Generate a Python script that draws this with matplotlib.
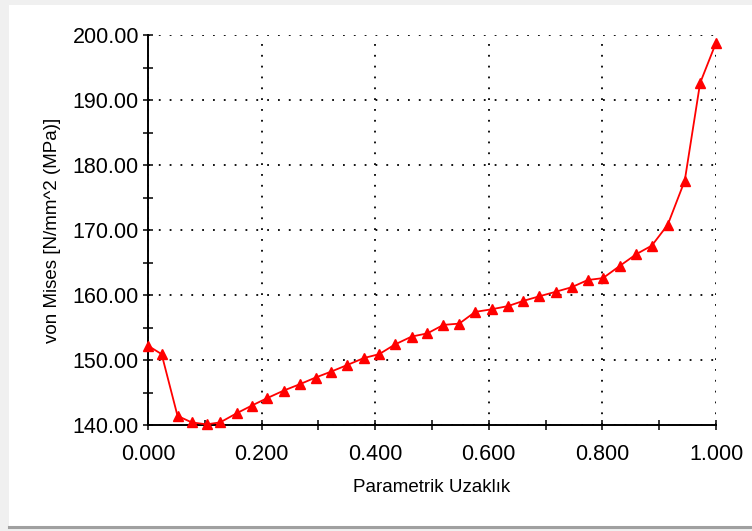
import matplotlib
matplotlib.use("Agg")
import matplotlib.pyplot as plt
from matplotlib.patches import Rectangle
from matplotlib.lines import Line2D
from matplotlib.ticker import MultipleLocator, FormatStrFormatter

plt.rcParams['font.family'] = ['Liberation Sans', 'DejaVu Sans']

x_vals = [0.0, 0.024, 0.052, 0.077, 0.103, 0.127, 0.156, 0.183, 0.209, 0.239,
          0.268, 0.295, 0.322, 0.350, 0.380, 0.407, 0.435, 0.464, 0.492, 0.520,
          0.548, 0.576, 0.605, 0.634, 0.661, 0.689, 0.718, 0.746, 0.774, 0.801,
          0.831, 0.860, 0.887, 0.915, 0.945, 0.972, 1.0]
y_vals = [152.2, 150.9, 141.4, 140.4, 140.1, 140.4, 141.8, 143.0, 144.1, 145.3,
          146.3, 147.3, 148.2, 149.2, 150.3, 150.9, 152.4, 153.6, 154.1, 155.4,
          155.6, 157.4, 157.8, 158.3, 159.1, 159.8, 160.5, 161.2, 162.3, 162.6,
          164.5, 166.3, 167.6, 170.8, 177.6, 192.6, 198.8]

x_label = "Parametrik Uzaklık"
y_label = "von Mises [N/mm^2 (MPa)]"

W, H = 752, 531
fig = plt.figure(figsize=(W / 100, H / 100), dpi=100, facecolor='#f0f0f0')

# white panel
fig.patches.append(Rectangle((9 / W, 5 / H), 1 - 9 / W, 1 - 10 / H,
                             transform=fig.transFigure, facecolor='white',
                             edgecolor='none', zorder=-10))
fig.lines.append(Line2D([9 / W, 1], [4 / H, 4 / H], transform=fig.transFigure,
                        color='#a0a0a0', linewidth=2.2, zorder=-5))

ax = fig.add_axes([148 / W, (H - 425) / H, (716 - 148) / W, (425 - 35) / H])
ax.set_facecolor('none')

ax.plot(x_vals, y_vals, color='#ff0000', linewidth=1.3, marker='^',
        markersize=7, markerfacecolor='#ff0000', markeredgecolor='#ff0000',
        zorder=5, clip_on=False)

ax.set_xlim(0, 1)
ax.set_ylim(140, 200)

ax.xaxis.set_major_locator(MultipleLocator(0.2))
ax.xaxis.set_minor_locator(MultipleLocator(0.1))
ax.yaxis.set_major_locator(MultipleLocator(10))
ax.yaxis.set_minor_locator(MultipleLocator(5))
ax.xaxis.set_major_formatter(FormatStrFormatter('%.3f'))
ax.yaxis.set_major_formatter(FormatStrFormatter('%.2f'))

for s in ['top', 'right']:
    ax.spines[s].set_visible(False)
for s in ['left', 'bottom']:
    ax.spines[s].set_linewidth(1.4)
    ax.spines[s].set_color('black')

ax.grid(True, which='major', color='black', linestyle=(0, (1, 5)),
        linewidth=1.3)
ax.set_axisbelow(True)

ax.tick_params(axis='both', which='both', direction='inout', length=7,
               width=1.1, color='black')
ax.tick_params(axis='y', which='major', labelsize=15.5, pad=3)
ax.tick_params(axis='x', which='major', labelsize=15.5, pad=10)

ax.set_xlabel(x_label, fontsize=13.5, labelpad=10)
ax.set_ylabel(y_label, fontsize=13.5, labelpad=8)

fig.savefig('out.png', dpi=100, facecolor=fig.get_facecolor())
